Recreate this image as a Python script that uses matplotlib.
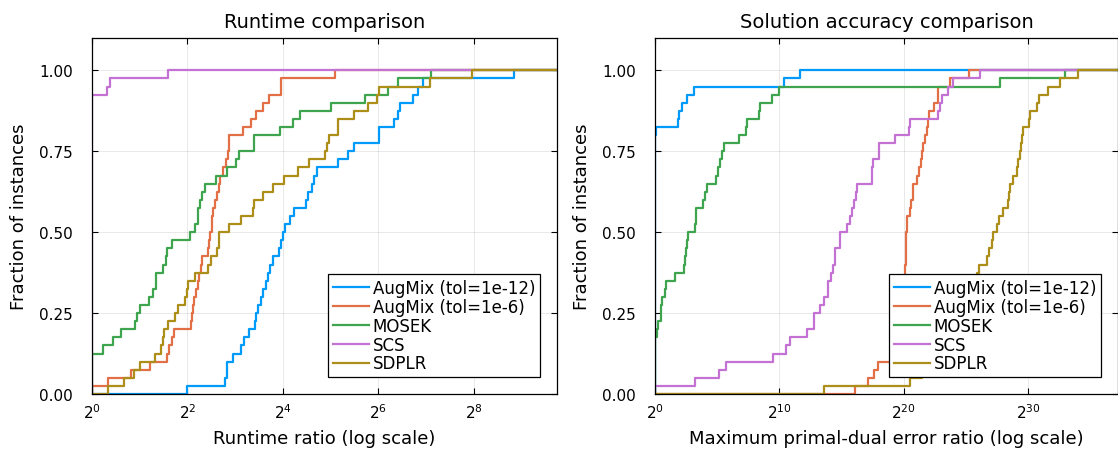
import numpy as np
import matplotlib.pyplot as plt

n_inst = 40
solvers = ['AugMix (tol=1e-12)', 'AugMix (tol=1e-6)', 'MOSEK', 'SCS', 'SDPLR']
colors = ['#009AFA', '#E36F47', '#3EA44E', '#C371D2', '#AC8E18']

# log2 of the runtime ratio per instance (sorted)
runtime_log2 = {
    'AugMix (tol=1e-12)': [2.00, 2.79, 2.82, 2.82, 2.95, 3.13, 3.18, 3.29, 3.41, 3.43,
                           3.48, 3.53, 3.59, 3.64, 3.69, 3.73, 3.80, 3.92, 3.95, 4.01,
                           4.05, 4.14, 4.23, 4.49, 4.53, 4.60, 4.65, 4.72, 5.16, 5.37,
                           5.49, 6.02, 6.02, 6.33, 6.41, 6.46, 6.73, 6.83, 6.94, 8.84],
    'AugMix (tol=1e-6)': [0.00, 0.34, 0.81, 1.21, 1.58, 1.61, 1.67, 1.72, 2.07, 2.09,
                          2.12, 2.14, 2.18, 2.21, 2.25, 2.28, 2.31, 2.42, 2.45, 2.47,
                          2.51, 2.52, 2.54, 2.58, 2.61, 2.65, 2.69, 2.74, 2.80, 2.84,
                          2.86, 2.88, 3.16, 3.33, 3.43, 3.59, 3.71, 3.96, 3.96, 5.10],
    'MOSEK': [0.00, 0.00, 0.00, 0.00, 0.00, 0.24, 0.43, 0.61, 0.90, 0.94,
              1.01, 1.19, 1.28, 1.33, 1.35, 1.48, 1.56, 1.58, 1.67, 2.05,
              2.16, 2.21, 2.23, 2.26, 2.30, 2.37, 2.60, 2.82, 3.02, 3.08,
              3.39, 3.39, 3.94, 4.20, 4.36, 5.01, 5.72, 6.21, 6.40, 7.10],
    'SCS': [0.0] * 37 + [0.31, 0.38, 1.60],
    'SDPLR': [0.34, 0.66, 0.89, 1.01, 1.32, 1.45, 1.48, 1.51, 1.60, 1.74,
              1.81, 1.95, 2.00, 2.02, 2.16, 2.44, 2.49, 2.62, 2.65, 2.66,
              2.88, 3.13, 3.38, 3.40, 3.59, 3.80, 4.02, 4.32, 4.54, 4.88,
              4.92, 4.97, 5.15, 5.16, 5.49, 5.79, 5.98, 6.02, 7.08, 7.96],
}

# log2 of the maximum primal-dual error ratio per instance (sorted)
error_log2 = {
    'AugMix (tol=1e-12)': [0.0] * 32 + [0.05, 1.85, 1.95, 2.20, 2.55, 3.14, 10.4, 11.7],
    'AugMix (tol=1e-6)': [16.1, 17.16, 17.6, 17.9, 19.17, 19.17, 19.2, 20.0, 20.02, 20.04,
                          20.05, 20.06, 20.08, 20.1, 20.12, 20.14, 20.16, 20.18, 20.2, 20.22,
                          20.24, 20.3, 20.55, 20.6, 20.75, 20.78, 21.1, 21.2, 21.37, 21.5,
                          21.53, 21.72, 21.9, 22.0, 22.07, 22.47, 22.75, 22.8, 23.7, 25.3],
    'MOSEK': [0.0] * 7 + [0.19, 0.27, 0.46, 0.51, 0.54, 0.80, 0.88, 1.61, 2.33,
                          2.39, 2.49, 2.60, 2.68, 3.22, 3.27, 3.32, 3.89, 4.02, 4.21,
                          4.91, 5.09, 5.23, 5.36, 5.55, 6.78, 7.32, 7.37, 8.39, 8.44,
                          9.38, 10.0, 27.75, 33.0],
    'SCS': [0.0, 3.22, 5.17, 5.71, 9.46, 10.5, 10.86, 12.2, 12.75, 12.8,
            13.27, 13.6, 13.9, 13.94, 14.16, 14.3, 14.45, 14.48, 14.85, 14.88,
            15.47, 15.68, 15.82, 16.0, 16.2, 16.27, 17.43, 17.47, 17.5, 18.0,
            18.04, 19.3, 20.4, 20.5, 22.8, 22.9, 23.06, 23.6, 24.0, 26.15],
    'SDPLR': [13.6, 20.5, 21.5, 22.3, 22.9, 23.3, 23.7, 24.0, 24.3, 24.6,
              24.8, 25.0, 25.3, 25.5, 25.9, 26.1, 26.7, 26.9, 27.1, 27.2,
              27.5, 27.7, 28.0, 28.4, 28.5, 28.6, 28.8, 29.1, 29.2, 29.4,
              29.45, 29.5, 29.6, 30.1, 30.2, 30.7, 30.9, 31.6, 32.6, 34.0],
}

left_ticks = [0, 2, 4, 6, 8]
right_ticks = [0, 10, 20, 30]
y_ticks = [0.0, 0.25, 0.5, 0.75, 1.0]


def profile(ax, data, xmax_log2, ticks, title, xlabel):
    for name, c in zip(solvers, colors):
        r = 2.0 ** np.array(data[name])
        xs = np.concatenate([[1.0], r, [2.0 ** (xmax_log2 + 1)]])
        ys = np.concatenate([[0.0], np.arange(1, n_inst + 1) / n_inst, [1.0]])
        ax.step(xs, ys, where='post', color=c, lw=1.6, label=name)
    ax.set_xscale('log', base=2)
    ax.set_xlim(1, 2.0 ** xmax_log2)
    ax.set_ylim(0, 1.1)
    ax.set_xticks([2.0 ** t for t in ticks])
    ax.set_xticklabels(['$2^{%d}$' % t for t in ticks])
    ax.minorticks_off()
    ax.set_yticks(y_ticks)
    ax.set_yticklabels(['%.2f' % v for v in y_ticks])
    ax.grid(True, color='#000000', alpha=0.1, lw=0.6)
    ax.tick_params(direction='in', top=True, right=True, labelsize=11, length=4)
    ax.tick_params(axis='y', pad=14)
    ax.tick_params(axis='x', pad=6)
    for s in ax.spines.values():
        s.set_linewidth(0.9)
    ax.set_title(title, fontsize=14, pad=8)
    ax.set_xlabel(xlabel, fontsize=13, labelpad=6)
    ax.set_ylabel('Fraction of instances', fontsize=13, labelpad=8)
    leg = ax.legend(loc='lower right', fontsize=12, frameon=True, fancybox=False,
                    edgecolor='black', framealpha=1, handlelength=2.2,
                    handletextpad=0.2, borderpad=0.3, labelspacing=0.05,
                    borderaxespad=1.0)
    leg.get_frame().set_linewidth(0.9)


fig = plt.figure(figsize=(11.18, 4.52), dpi=100)
ax1 = fig.add_axes([0.0823, 0.1261, 0.4159, 0.7876])
ax2 = fig.add_axes([0.5859, 0.1261, 0.4141, 0.7876])

profile(ax1, runtime_log2, 9.74, left_ticks, 'Runtime comparison',
        'Runtime ratio (log scale)')
profile(ax2, error_log2, 37.25, right_ticks, 'Solution accuracy comparison',
        'Maximum primal-dual error ratio (log scale)')

fig.savefig('out.png', dpi=100)
